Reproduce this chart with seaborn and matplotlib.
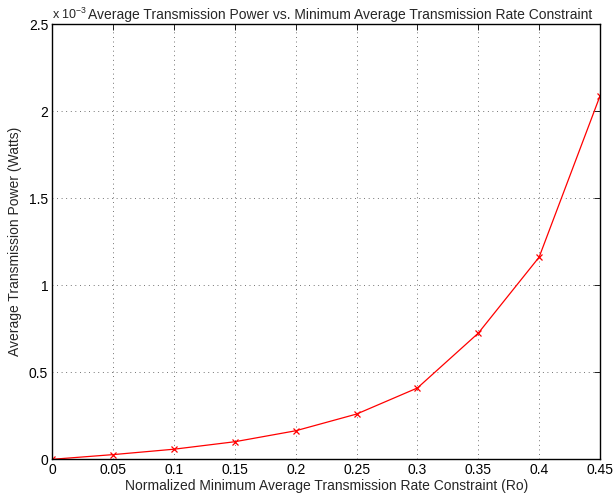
import matplotlib
matplotlib.use("Agg")
import matplotlib.pyplot as plt
import seaborn as sns
import pandas as pd

# Minimum average rate constraint and resulting average power (x 1e-3 W)
rate_constraint = [0.0, 0.05, 0.10, 0.15, 0.20, 0.25, 0.30, 0.35, 0.40, 0.45]
avg_power_milli = [0.0, 0.027, 0.058, 0.101, 0.164, 0.26, 0.41, 0.725, 1.162, 2.088]
x_ticks = [0, 0.05, 0.1, 0.15, 0.2, 0.25, 0.3, 0.35, 0.4, 0.45]
x_tick_labels = ["0", "0.05", "0.1", "0.15", "0.2", "0.25", "0.3", "0.35", "0.4", "0.45"]
y_ticks = [0, 0.5, 1, 1.5, 2, 2.5]
y_tick_labels = ["0", "0.5", "1", "1.5", "2", "2.5"]

df = pd.DataFrame({"Ro": rate_constraint, "P": avg_power_milli})

sns.set_style("white")
plt.rcParams["font.family"] = ["Liberation Sans", "DejaVu Sans"]
plt.rcParams["mathtext.fontset"] = "custom"
plt.rcParams["mathtext.rm"] = "Liberation Sans"
plt.rcParams["mathtext.it"] = "Liberation Sans"

FS = 10

fig = plt.figure(figsize=(6.13, 4.99), dpi=100)
ax = fig.add_axes([52.3 / 613, 1 - 459.3 / 499, (600 - 52.3) / 613, (459.3 - 24.3) / 499])

sns.lineplot(data=df, x="Ro", y="P", ax=ax, color="red", linewidth=0.9,
             marker="x", markersize=5, markeredgecolor="red", markeredgewidth=0.9)

ax.set_xlim(0, 0.45)
ax.set_ylim(0, 2.5)
ax.set_xticks(x_ticks)
ax.set_xticklabels(x_tick_labels)
ax.set_yticks(y_ticks)
ax.set_yticklabels(y_tick_labels)

ax.grid(True, color="#444444", linestyle=(0, (1, 4.5)), linewidth=0.6)
ax.tick_params(direction="in", length=4, width=0.6, top=True, right=True,
               labelsize=FS, colors="black", pad=3)
for s in ax.spines.values():
    s.set_visible(True)
    s.set_color("black")
    s.set_linewidth(1.0)

ax.set_xlabel("Normalized Minimum Average Transmission Rate Constraint (Ro)", fontsize=FS, labelpad=1)
ax.set_ylabel("Average Transmission Power (Watts)", fontsize=FS, labelpad=5)

# exponent of the y scale, then the title just after it
fig.text(52.5 / 613, 1 - 19 / 499, r"x 10$^{-3}$", fontsize=9, ha="left", va="baseline")
fig.text(88 / 613, 1 - 19 / 499, "Average Transmission Power vs. Minimum Average Transmission Rate Constraint",
         fontsize=FS, ha="left", va="baseline")

fig.savefig("out.png", dpi=100)
